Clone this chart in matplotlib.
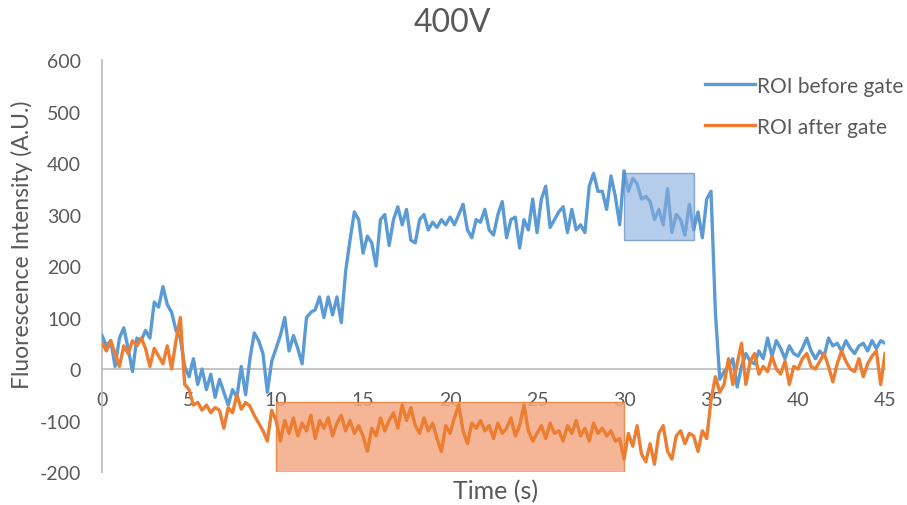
import numpy as np
import matplotlib.pyplot as plt
from matplotlib.patches import Rectangle

plt.rcParams['font.family'] = ['Lato', 'DejaVu Sans']
plt.rcParams['axes.unicode_minus'] = False

# sampling: one reading every 0.25 s from 0 to 45 s
time_s = np.arange(0, 45.001, 0.25)

roi_before = [
    65, 45, 55, 5,   60, 80, 40, -5,   60, 55, 75, 60,   130, 120, 160, 125,
    110, 75, 60, 5,   -15, 20, -30, 0,   -40, -10, -55, -20,   -45, -70, -40, -55,
    5, -50, 20, 70,   55, 30, -45, 15,   40, 65, 100, 35,   65, 40, 10, 100,
    110, 115, 140, 100,   140, 105, 140, 90,   190, 250, 305, 290,   225, 258, 245, 200,
    290, 300, 240, 290,   315, 280, 310, 250,   245, 290, 300, 270,   285, 275, 290, 280,
    295, 280, 300, 320,   270, 255, 290, 285,   310, 270, 260, 300,   325, 255, 290, 295,
    235, 290, 270, 330,   265, 330, 355, 275,   290, 305, 315, 265,   310, 270, 280, 265,
    355, 380, 345, 345,   310, 375, 335, 280,   385, 345, 370, 360,   330, 335, 325, 290,
    310, 280, 350, 265,   300, 290, 260, 320,   270, 305, 255, 330,   345, 110, -20, -5,
    5, 20, -35, 5,   30, 15, 10, 35,   20, 60, 25, 55,   40, 20, 45, 30,
    25, 40, 60, 35,   20, 35, 25, 60,   45, 50, 35, 55,   40, 30, 45, 50,
    35, 55, 40, 55,   50,
]

roi_after = [
    50, 35, 55, 30,   5, 45, 30, 55,   45, 60, 40, 5,   40, 25, 10, 45,
    0, 55, 100, -30,   -40, -70, -65, -80,   -70, -85, -75, -80,   -115, -75, -85, -50,
    -78, -65, -72, -90,   -105, -120, -140, -80,   -100, -140, -100, -125,   -95, -130, -105, -120,
    -90, -135, -100, -115,   -95, -130, -105, -90,   -120, -100, -125, -110,   -130, -160, -115, -130,
    -95, -120, -100, -85,   -115, -70, -100, -75,   -110, -125, -95, -120,   -105, -135, -160, -110,
    -125, -95, -70, -120,   -145, -105, -115, -100,   -120, -110, -135, -105,   -125, -115, -95, -130,
    -110, -70, -120, -140,   -125, -110, -135, -105,   -125, -120, -140, -110,   -125, -100, -130, -115,
    -140, -105, -125, -115,   -130, -120, -140, -135,   -175, -125, -150, -110,   -165, -180, -145, -185,
    -125, -110, -160, -175,   -130, -120, -145, -125,   -130, -160, -120, -135,   -60, -15, -45, -30,
    20, -30, 10, 50,   -30, 15, 30, -10,   5, -5, 25, 0,   -10, 15, -30, 5,
    0, 20, 30, 5,   0, 15, 30, 5,   -25, 10, 35, 15,   0, -5, 20, -15,
    10, 25, 35, -30,   30,
]

series_names = ['ROI before gate', 'ROI after gate']

# highlighted windows: (t start, t end, low, high)
box_before = (30, 34, 250, 380)
box_after = (10, 30, -200, -65)

blue = '#5B9BD5'
orange = '#ED7D31'
grey = '#595959'

fig = plt.figure(figsize=(9.07, 5.06), dpi=100)
ax = fig.add_axes([0.1125, 0.0652, 0.8633, 0.8142])

ax.plot(time_s, roi_before, color=blue, lw=2.4, label=series_names[0], zorder=3)
ax.plot(time_s, roi_after, color=orange, lw=2.4, label=series_names[1], zorder=3)

x0, x1, y0, y1 = box_before
ax.add_patch(Rectangle((x0, y0), x1 - x0, y1 - y0, facecolor='#85ACDD', alpha=0.6,
                       edgecolor='#4A7EBB', lw=1.0, zorder=4))
x0, x1, y0, y1 = box_after
ax.add_patch(Rectangle((x0, y0), x1 - x0, y1 - y0, facecolor='#F3AA85', alpha=0.85,
                       edgecolor=orange, lw=1.0, zorder=2))

ax.set_xlim(0, 45)
ax.set_ylim(-200, 600)
ax.set_xticks(range(0, 46, 5))
ax.set_yticks(range(-200, 601, 100))

for s in ['top', 'right']:
    ax.spines[s].set_visible(False)
ax.spines['bottom'].set_position(('data', 0))
ax.spines['bottom'].set_color('#BFBFBF')
ax.spines['left'].set_color('#BFBFBF')
ax.spines['bottom'].set_linewidth(1.3)
ax.spines['left'].set_linewidth(1.3)
ax.spines['bottom'].set_zorder(1)

ax.tick_params(axis='both', length=0, labelsize=14, colors=grey)
ax.tick_params(axis='x', pad=16)
ax.tick_params(axis='y', pad=15)

ax.set_ylabel('Fluorescence Intensity (A.U.)', fontsize=16.5, color=grey)
ax.yaxis.set_label_coords(-0.088, 0.555)
fig.text(0.546, 0.028, 'Time (s)', fontsize=18, color=grey, ha='center', va='center')
fig.text(0.499, 0.955, '400V', fontsize=23, color=grey, ha='center', va='center')

ax.legend(loc='upper left', bbox_to_anchor=(0.770, 0.962), frameon=False, fontsize=15,
          borderaxespad=0, borderpad=0, handlelength=2.4, labelspacing=1.0,
          handletextpad=0.1, labelcolor=grey)

fig.savefig('out.png', dpi=100)
